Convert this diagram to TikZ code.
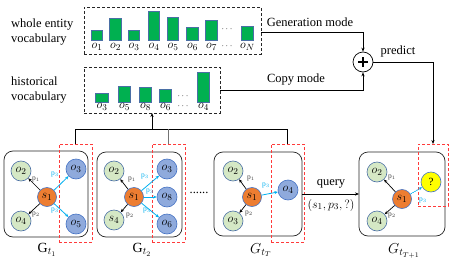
\documentclass[tikz,border=0pt]{standalone}
\usepackage{fontspec}
\setmainfont{Liberation Serif}
\usetikzlibrary{arrows.meta}
\definecolor{barg}{HTML}{00B050}
\definecolor{barb}{HTML}{4A6FA5}
\definecolor{lg}{HTML}{D5E8C5}
\definecolor{nb}{HTML}{8FAADC}
\definecolor{nbd}{HTML}{4472C4}
\definecolor{org}{HTML}{ED7D31}
\definecolor{cy}{HTML}{00B0F0}
\definecolor{rd}{HTML}{FF3B3B}
\definecolor{yl}{HTML}{FFFF00}
\tikzset{
  vbox/.style={draw=black!85, line width=0.8pt, dash pattern=on 3pt off 2pt, inner sep=0pt, outer sep=0pt},
  barshape/.style={fill=barg, draw=barb, line width=0.6pt},
  lab/.style={inner sep=0pt, font=\fontsize{12.5}{13}\selectfont},
  dotlab/.style={inner sep=0pt, font=\fontsize{9}{10}\selectfont},
  gbox/.style={draw=black!85, line width=0.7pt, rounded corners=9pt, inner sep=0pt, outer sep=0pt},
  redbox/.style={draw=rd, line width=0.9pt, dash pattern=on 3pt off 2pt, inner sep=0pt, outer sep=0pt},
  gn/.style={circle, fill=lg, draw=barb, line width=0.6pt, minimum size=20pt, inner sep=0pt, font=\fontsize{12.5}{13}\selectfont},
  bn/.style={circle, fill=nb, draw=nbd, line width=0.6pt, minimum size=20pt, inner sep=0pt, font=\fontsize{12.5}{13}\selectfont},
  sn/.style={circle, fill=org, draw=nbd, line width=0.6pt, minimum size=19pt, inner sep=0pt, font=\fontsize{12.5}{13}\selectfont},
  yn/.style={circle, fill=yl, draw=nbd, line width=0.6pt, minimum size=20pt, inner sep=0pt, font=\fontsize{11}{12}\selectfont},
  karr/.style={-{Stealth[length=3.5pt,width=3pt]}, line width=0.7pt, black},
  carr/.style={-{Stealth[length=3.5pt,width=3pt]}, line width=0.8pt, cy},
  plab/.style={inner sep=0pt, font=\fontsize{7.5}{8}\selectfont, text=black!75},
  clab/.style={inner sep=0pt, font=\fontsize{7.5}{8}\selectfont, text=cy},
  conn/.style={line width=0.7pt, black},
  connarr/.style={-{Stealth[length=4pt,width=3.2pt]}, line width=0.7pt, black},
  txt/.style={inner sep=0pt, font=\fontsize{12.5}{15}\selectfont},
  glab/.style={inner sep=0pt, font=\fontsize{14}{15}\selectfont},
}
\begin{document}
\begin{tikzpicture}[x=1pt,y=-1pt]
\useasboundingbox (0,0) rectangle (455,260);
\fill[white] (0,0) rectangle (455,260);

% left texts
\node[txt, anchor=west, align=left] (wlab) at (11,32.5) {whole entity\\vocabulary};
\node[txt, anchor=west, align=left] (hlab) at (11,90.5) {historical\\vocabulary};

% vocabulary boxes
\node[vbox, minimum width=177pt, minimum height=47pt] (top) at (172.5,30.5) {};
\node[vbox, minimum width=136pt, minimum height=46pt] (hist) at (152,90) {};

% top bars
\foreach \x/\t/\l in {97/30/1,115.5/18/2,134/30/3,154/11/4,173/17/5,192.5/27/6,211.5/20/7,247.5/26/N}{
  \draw[barshape] (\x-5.75,40) rectangle (\x+5.75,\t);
  \node[lab] (tl\l) at (\x,47) {$o_{\l}$};
}
\node[dotlab] (tdots1) at (227,29) {$\cdots$};
\node[dotlab] (tdots2) at (227,46) {$\cdots$};

% historical bars
\foreach \x/\t/\l in {102/93/3,124.5/86/5,145.5/87/8,165.5/89/6,203.5/72/4}{
  \draw[barshape] (\x-6.25,102) rectangle (\x+6.25,\t);
  \node[lab] (hl\l) at (\x,107) {$o_{\l}$};
}
\node[dotlab] (hdots1) at (183,96) {$\cdots$};
\node[dotlab] (hdots2) at (183,106.5) {$\cdots$};

% plus
\node[circle, draw=black, line width=0.7pt, minimum size=20pt, inner sep=0pt] (plus) at (363,62) {};
\draw[line width=1.4pt] (plus.center) ++(-5,0) -- ++(10,0);
\draw[line width=1.4pt] (plus.center) ++(0,-5) -- ++(0,10);

% graph boxes
\node[gbox, minimum width=84pt, minimum height=86pt] (g1) at (46,194) {};
\node[gbox, minimum width=85pt, minimum height=85pt] (g2) at (139.5,194.5) {};
\node[gbox, minimum width=88pt, minimum height=84pt] (g3) at (258,194) {};
\node[gbox, minimum width=86pt, minimum height=84pt] (g4) at (402,194) {};

% red dashed boxes
\node[redbox, minimum width=33pt, minimum height=98pt] (r1) at (75.5,193) {};
\node[redbox, minimum width=33pt, minimum height=98pt] (r2) at (168.5,193) {};
\node[redbox, minimum width=33pt, minimum height=98pt] (r3) at (287.5,193) {};
\node[redbox, minimum width=30pt, minimum height=62pt] (r4) at (433,175) {};

% graph 1
\node[gn] (o2a) at (21,171) {$o_2$};
\node[sn] (s1a) at (47,197) {$s_1$};
\node[bn] (o3a) at (76,169) {$o_3$};
\node[gn] (o4a) at (21,221) {$o_4$};
\node[bn] (o5a) at (76,224) {$o_5$};
\draw[karr] (s1a) -- (o2a);
\draw[karr] (s1a) -- (o4a);
\draw[carr] (s1a) -- (o3a);
\draw[carr] (s1a) -- (o5a);
\node[plab] (pa1) at (36,180) {p$_1$};
\node[plab] (pa2) at (36,215) {p$_2$};
\node[clab] (pa3) at (55,175) {p$_3$};
\node[clab] (pa4) at (55,211) {p$_3$};

% graph 2
\node[gn] (o2b) at (114,171) {$o_2$};
\node[sn] (s1b) at (134,197) {$s_1$};
\node[gn] (s4b) at (114,220) {$s_4$};
\node[bn] (o3b) at (167,169) {$o_3$};
\node[bn] (o8b) at (167,197) {$o_8$};
\node[bn] (o6b) at (167,224) {$o_6$};
\draw[karr] (s1b) -- (o2b);
\draw[karr] (s1b) -- (s4b);
\draw[carr] (s1b) -- (o3b);
\draw[carr] (s1b) -- (o8b);
\draw[carr] (s1b) -- (o6b);
\node[plab] (pb1) at (132,180) {p$_1$};
\node[plab] (pb2) at (130,216) {p$_2$};
\node[clab] (pb3) at (145,177) {p$_3$};
\node[clab] (pb4) at (150,192) {p$_3$};
\node[clab] (pb5) at (147,211) {p$_3$};

\node[txt] (gdots) at (199,193) {......};

% graph 3
\node[gn] (o2c) at (233,171) {$o_2$};
\node[sn] (s1c) at (252,197) {$s_1$};
\node[gn] (o3c) at (233,221) {$o_3$};
\node[bn] (o4c) at (288,190) {$o_4$};
\draw[karr] (s1c) -- (o2c);
\draw[karr] (s1c) -- (o3c);
\draw[carr] (s1c) -- (o4c);
\node[plab] (pc1) at (251,179) {p$_1$};
\node[plab] (pc2) at (249,214) {p$_2$};
\node[clab] (pc3) at (266,186) {p$_3$};

% graph 4
\node[gn] (o2d) at (377,172) {$o_2$};
\node[sn] (s1d) at (402,199) {$s_1$};
\node[yn] (qd) at (431,182) {?};
\node[gn] (o4d) at (377,221) {$o_4$};
\draw[karr] (s1d) -- (o2d);
\draw[karr] (s1d) -- (o4d);
\draw[carr, dash pattern=on 1.5pt off 0.8pt] (s1d) -- (qd);
\node[plab] (pd1) at (392,178) {p$_1$};
\node[plab] (pd2) at (392,216) {p$_2$};
\node[clab] (pd3) at (423,201) {p$_3$};

% graph labels
\node[glab] (lg1) at (47,250) {$\mathrm{G}_{t_1}$};
\node[glab] (lg2) at (142,250) {$\mathrm{G}_{t_2}$};
\node[glab] (lg3) at (261,250) {$G_{t_T}$};
\node[glab] (lg4) at (404,251) {$G_{t_{T+1}}$};

% query
\draw[connarr] (g3.east) -- (g4.west);
\node[txt] (qlab) at (331,184) {query};
\node[txt] (qtup) at (331,205) {$(s_1, p_3, ?)$};

% connectors to historical box
\draw[conn] (r1.north) -- ++(0,-15) coordinate (j1) -- (r3.north |- j1) -- (r3.north);
\draw[conn, black!55] (r2.north) -- (r2.north |- j1);
\draw[connarr] (hist.south |- j1) -- (hist.south);

% modes
\draw[connarr] (top.east |- 0,32) -| (plus.north);
\node[txt] (gm) at (310,22) {Generation mode};
\draw[connarr] (hist.east) -| (plus.south);
\node[txt] (cm) at (296,80) {Copy mode};
\draw[connarr] (plus.east) -| (r4.north);
\node[txt] (pr) at (398,51) {predict};
\end{tikzpicture}
\end{document}
